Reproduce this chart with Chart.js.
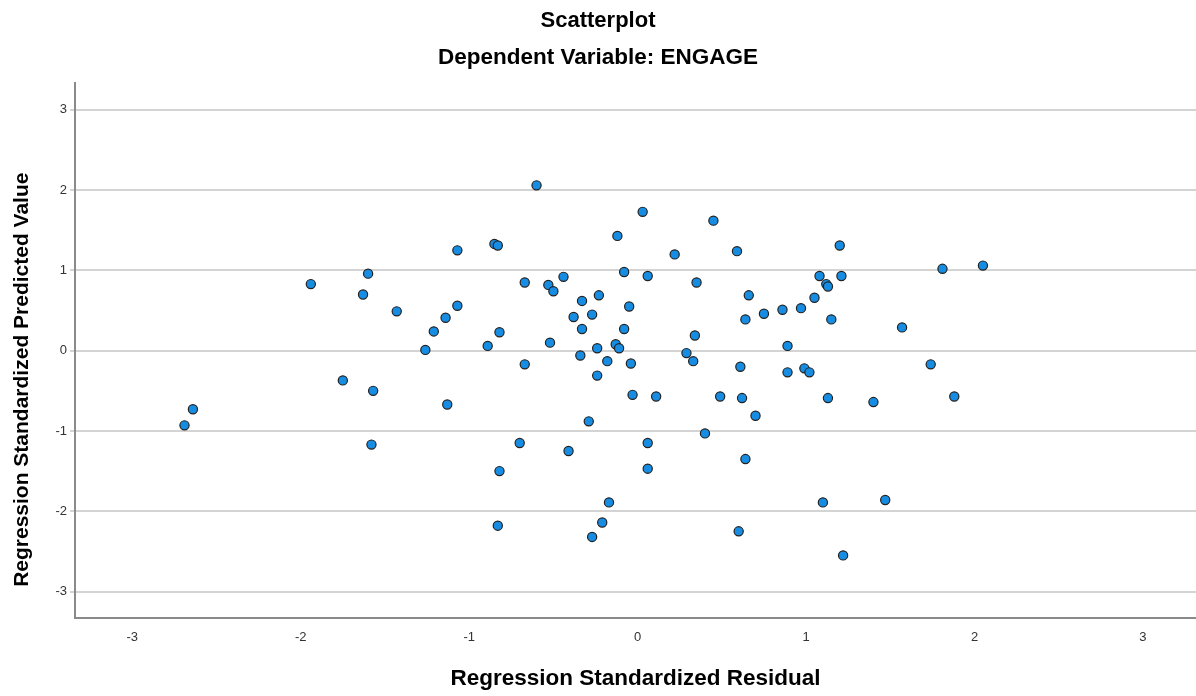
<!DOCTYPE html>
<html>
<head>
<meta charset="utf-8">
<script src="https://cdn.jsdelivr.net/npm/chart.js@4.4.1/dist/chart.umd.min.js"></script>
<style>
html,body{margin:0;padding:0;background:#ffffff;}
#wrap{width:1196px;height:696px;}
canvas{display:block;}
</style>
</head>
<body>
<div id="wrap"><canvas id="c" width="1196" height="696"></canvas></div>
<script>
const chartTitle = 'Scatterplot';
const chartSubtitle = 'Dependent Variable: ENGAGE';
const xAxisTitle = 'Regression Standardized Residual';
const yAxisTitle = 'Regression Standardized Predicted Value';
const tickValues = [-3, -2, -1, 0, 1, 2, 3];
const xAxisMin = -3.34;
const xAxisMax = 3.315;
const yAxisMin = -3.33;
const yAxisMax = 3.33;

// Regression standardized residual (x)
const residuals = [
  -1.07, -1.94, -1.60, -1.63, -1.43, -1.07, -1.14, -1.21, -1.26,
  -2.64, -2.69, -1.75, -1.57, -1.13, -1.58,
  -0.60, 0.03, 0.45, -0.85, -0.83, -0.12, 0.22, 0.59, -0.08, 0.06,
  -0.67, -0.53, -0.50, -0.44, 0.35, 0.66, -0.33, -0.23, -0.05, -0.38,
  -0.27, -0.33, -0.08, 0.64, 0.75, 0.86, -0.82, -0.89, -0.52, 0.34,
  -0.24, -0.13, -0.11, -0.34, 0.29, 0.33, -0.18, -0.04, -0.67, 0.61,
  -0.24, 0.89, 0.89,
  -0.03, 0.11, 0.49, 0.62, 0.70, -0.29, 0.40, -0.70, 0.06, -0.41,
  0.64, -0.82, 0.06, -0.17, -0.83, -0.21, -0.27, 0.60,
  1.20, 1.08, 1.21, 1.12, 1.13, 1.05, 0.97, 1.15, 1.81, 2.05,
  1.57, 1.74, 0.99, 1.02,
  1.13, 1.40, 1.88, 1.10, 1.47, 1.22
];

// Regression standardized predicted value (y)
const predicted = [
  1.25, 0.83, 0.96, 0.70, 0.49, 0.56, 0.41, 0.24, 0.01,
  -0.73, -0.93, -0.37, -0.50, -0.67, -1.17,
  2.06, 1.73, 1.62, 1.33, 1.31, 1.43, 1.20, 1.24, 0.98, 0.93,
  0.85, 0.82, 0.74, 0.92, 0.85, 0.69, 0.62, 0.69, 0.55, 0.42,
  0.45, 0.27, 0.27, 0.39, 0.46, 0.51, 0.23, 0.06, 0.10, 0.19,
  0.03, 0.08, 0.03, -0.06, -0.03, -0.13, -0.13, -0.16, -0.17, -0.20,
  -0.31, 0.06, -0.27,
  -0.55, -0.57, -0.57, -0.59, -0.81, -0.88, -1.03, -1.15, -1.15, -1.25,
  -1.35, -1.50, -1.47, -1.89, -2.18, -2.14, -2.32, -2.25,
  1.31, 0.93, 0.93, 0.83, 0.80, 0.66, 0.53, 0.39, 1.02, 1.06,
  0.29, -0.17, -0.22, -0.27,
  -0.59, -0.64, -0.57, -1.89, -1.86, -2.55
];

const points = residuals.map((x, i) => ({ x: x, y: predicted[i] }));
const FONT = '"Liberation Sans", Arial, Helvetica, sans-serif';

const yTitlePlugin = {
  id: 'yTitlePlugin',
  afterDraw(chart) {
    const ctx = chart.ctx;
    const area = chart.chartArea;
    ctx.save();
    ctx.translate(22, (area.top + area.bottom) / 2 + 29);
    ctx.rotate(-Math.PI / 2);
    ctx.font = 'bold 21px ' + FONT;
    ctx.fillStyle = '#000000';
    ctx.textAlign = 'center';
    ctx.textBaseline = 'middle';
    ctx.fillText(yAxisTitle, 0, 0);
    ctx.restore();
  }
};

new Chart(document.getElementById('c'), {
  type: 'scatter',
  data: {
    datasets: [{
      label: 'Cases',
      data: points,
      pointRadius: 4.6,
      pointHoverRadius: 4.6,
      pointBackgroundColor: '#168de2',
      pointBorderColor: '#222222',
      pointBorderWidth: 1.2
    }]
  },
  options: {
    responsive: false,
    animation: false,
    layout: { padding: 0, autoPadding: false },
    plugins: {
      legend: { display: false },
      tooltip: { enabled: false },
      title: {
        display: true,
        text: chartTitle,
        color: '#000000',
        font: { family: FONT, size: 22, weight: 'bold' },
        padding: { top: 8, bottom: 10 }
      },
      subtitle: {
        display: true,
        text: chartSubtitle,
        color: '#000000',
        font: { family: FONT, size: 22.5, weight: 'bold' },
        padding: { top: 0, bottom: 12 }
      }
    },
    scales: {
      x: {
        type: 'linear',
        min: xAxisMin,
        max: xAxisMax,
        afterBuildTicks: s => { s.ticks = tickValues.map(v => ({ value: v })); },
        afterFit: s => { s.height = 78; },
        grid: { display: false, drawTicks: false },
        border: { display: true, color: '#8a8a8a', width: 2 },
        ticks: {
          color: '#333333',
          font: { family: FONT, size: 13 },
          padding: 12,
          maxRotation: 0,
          autoSkip: false
        },
        title: {
          display: true,
          text: xAxisTitle,
          color: '#000000',
          font: { family: FONT, size: 22.5, weight: 'bold' },
          padding: { top: 0, bottom: 4 }
        }
      },
      y: {
        type: 'linear',
        min: yAxisMin,
        max: yAxisMax,
        afterBuildTicks: s => { s.ticks = tickValues.map(v => ({ value: v })); },
        afterFit: s => { s.width = 75; },
        grid: { color: '#d4d4d4', lineWidth: 2, tickLength: 5, drawTicks: true },
        border: { display: true, color: '#8a8a8a', width: 2 },
        ticks: {
          color: '#333333',
          font: { family: FONT, size: 13 },
          padding: 3,
          autoSkip: false
        },
        title: { display: false }
      }
    }
  },
  plugins: [yTitlePlugin]
});
</script>
</body>
</html>
